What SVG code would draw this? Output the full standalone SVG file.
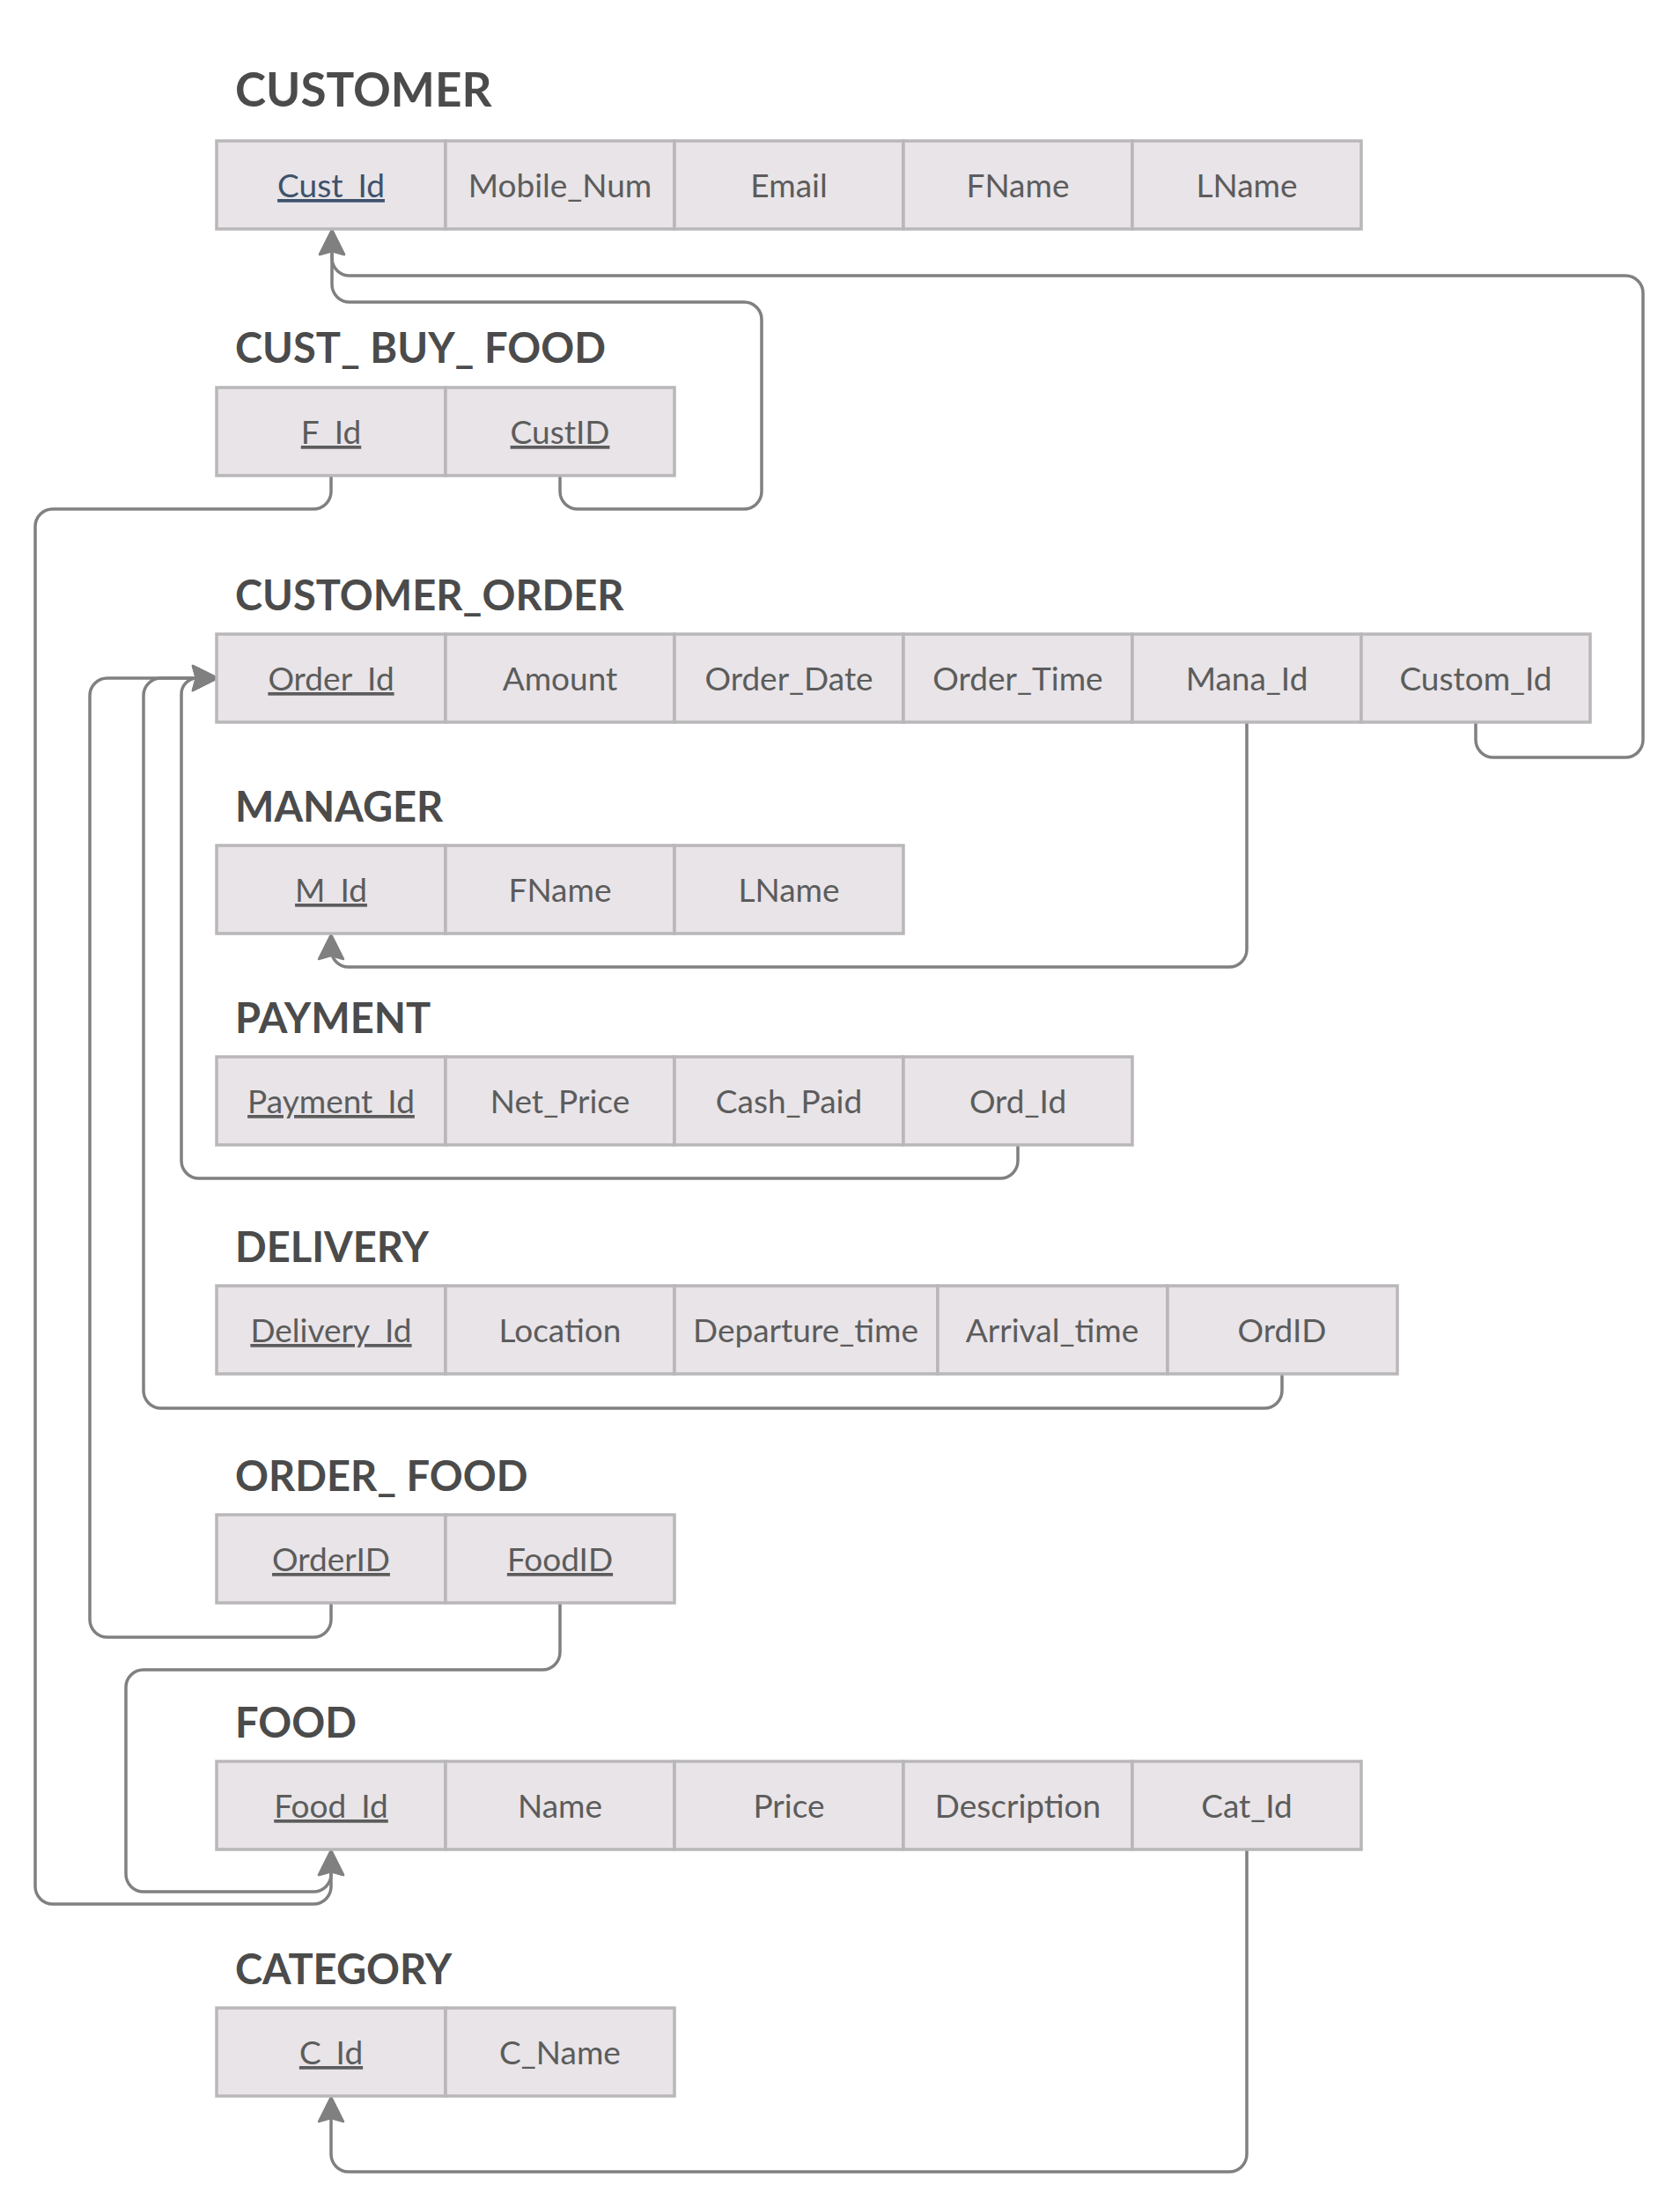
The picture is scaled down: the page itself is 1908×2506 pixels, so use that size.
<svg xmlns="http://www.w3.org/2000/svg" width="1908" height="2506" viewBox="0 0 1908 2506">
<defs>
<style>
.bg{fill:#ffffff}
.cell{fill:#e8e4e8;stroke:#b9b7b9;stroke-width:3.5}
.t{font-family:Lato,"Liberation Sans",sans-serif;font-size:37px;fill:#5c5c5c;text-anchor:middle}
.u{text-decoration:underline}
.k{fill:#3e526c}
.h{font-family:Lato,"Liberation Sans",sans-serif;font-weight:bold;font-size:47px;fill:#4b4b4b}
.h1{font-size:53px}
.c{fill:none;stroke:#808080;stroke-width:3.5;marker-end:url(#arr)}
</style>
<marker id="arr" markerUnits="userSpaceOnUse" markerWidth="44" markerHeight="44" viewBox="-22 -22 44 44" refX="0" refY="0" orient="auto">
<path d="M16,0 L-12,-14 L-8,0 L-12,14 Z" fill="#808080" stroke="#808080" stroke-width="2.5" stroke-linejoin="round"/>
</marker>
</defs>
<rect class="bg" x="0" y="0" width="1908" height="2506"/>

<g id="connectors">
<path class="c" d="M636,541 V558 A20,20 0 0 0 656,578 H845 A20,20 0 0 0 865,558 V363 A20,20 0 0 0 845,343 H397 A20,20 0 0 1 377,323 V277"/>
<path class="c" d="M1676,821 V840 A20,20 0 0 0 1696,860 H1846 A20,20 0 0 0 1866,840 V333 A20,20 0 0 0 1846,313 H397 A20,20 0 0 1 377,293 V277"/>
<path class="c" d="M376,541 V558 A20,20 0 0 1 356,578 H60 A20,20 0 0 0 40,598 V2142 A20,20 0 0 0 60,2162 H356 A20,20 0 0 0 376,2142 V2117"/>
<path class="c" d="M636,1821 V1876 A20,20 0 0 1 616,1896 H163 A20,20 0 0 0 143,1916 V2128 A20,20 0 0 0 163,2148 H356 A20,20 0 0 0 376,2128 V2117"/>
<path class="c" d="M376,1821 V1839 A20,20 0 0 1 356,1859 H122 A20,20 0 0 1 102,1839 V790 A20,20 0 0 1 122,770 H231"/>
<path class="c" d="M1456,1561 V1579 A20,20 0 0 1 1436,1599 H183 A20,20 0 0 1 163,1579 V790 A20,20 0 0 1 183,770 H231"/>
<path class="c" d="M1156,1301 V1318 A20,20 0 0 1 1136,1338 H226 A20,20 0 0 1 206,1318 V788 A18,18 0 0 1 224,770 H231"/>
<path class="c" d="M1416,821 V1078 A20,20 0 0 1 1396,1098 H396 A20,20 0 0 1 376,1078 V1077"/>
<path class="c" d="M1416,2101 V2446 A20,20 0 0 1 1396,2466 H396 A20,20 0 0 1 376,2446 V2397"/>
</g>

<g id="customer">
<text class="h h1" x="267" y="121">CUSTOMER</text>
<rect class="cell" x="246" y="160" width="260" height="100"/>
<rect class="cell" x="506" y="160" width="260" height="100"/>
<rect class="cell" x="766" y="160" width="260" height="100"/>
<rect class="cell" x="1026" y="160" width="260" height="100"/>
<rect class="cell" x="1286" y="160" width="260" height="100"/>
<text class="t u k" x="376" y="224">Cust_Id</text>
<text class="t" x="636" y="224">Mobile_Num</text>
<text class="t" x="896" y="224">Email</text>
<text class="t" x="1156" y="224">FName</text>
<text class="t" x="1416" y="224">LName</text>
</g>

<g id="cust_buy_food">
<text class="h" x="267" y="412">CUST_ BUY_ FOOD</text>
<rect class="cell" x="246" y="440" width="260" height="100"/>
<rect class="cell" x="506" y="440" width="260" height="100"/>
<text class="t u" x="376" y="504">F_Id</text>
<text class="t u" x="636" y="504">CustID</text>
</g>

<g id="customer_order">
<text class="h" x="267" y="693">CUSTOMER_ORDER</text>
<rect class="cell" x="246" y="720" width="260" height="100"/>
<rect class="cell" x="506" y="720" width="260" height="100"/>
<rect class="cell" x="766" y="720" width="260" height="100"/>
<rect class="cell" x="1026" y="720" width="260" height="100"/>
<rect class="cell" x="1286" y="720" width="260" height="100"/>
<rect class="cell" x="1546" y="720" width="260" height="100"/>
<text class="t u" x="376" y="784">Order_Id</text>
<text class="t" x="636" y="784">Amount</text>
<text class="t" x="896" y="784">Order_Date</text>
<text class="t" x="1156" y="784">Order_Time</text>
<text class="t" x="1416" y="784">Mana_Id</text>
<text class="t" x="1676" y="784">Custom_Id</text>
</g>

<g id="manager">
<text class="h" x="267" y="933">MANAGER</text>
<rect class="cell" x="246" y="960" width="260" height="100"/>
<rect class="cell" x="506" y="960" width="260" height="100"/>
<rect class="cell" x="766" y="960" width="260" height="100"/>
<text class="t u" x="376" y="1024">M_Id</text>
<text class="t" x="636" y="1024">FName</text>
<text class="t" x="896" y="1024">LName</text>
</g>

<g id="payment">
<text class="h" x="267" y="1173">PAYMENT</text>
<rect class="cell" x="246" y="1200" width="260" height="100"/>
<rect class="cell" x="506" y="1200" width="260" height="100"/>
<rect class="cell" x="766" y="1200" width="260" height="100"/>
<rect class="cell" x="1026" y="1200" width="260" height="100"/>
<text class="t u" x="376" y="1264">Payment_Id</text>
<text class="t" x="636" y="1264">Net_Price</text>
<text class="t" x="896" y="1264">Cash_Paid</text>
<text class="t" x="1156" y="1264">Ord_Id</text>
</g>

<g id="delivery">
<text class="h" x="267" y="1433">DELIVERY</text>
<rect class="cell" x="246" y="1460" width="260" height="100"/>
<rect class="cell" x="506" y="1460" width="260" height="100"/>
<rect class="cell" x="766" y="1460" width="299" height="100"/>
<rect class="cell" x="1065" y="1460" width="261" height="100"/>
<rect class="cell" x="1326" y="1460" width="261" height="100"/>
<text class="t u" x="376" y="1524">Delivery_Id</text>
<text class="t" x="636" y="1524">Location</text>
<text class="t" x="915" y="1524">Departure_time</text>
<text class="t" x="1195" y="1524">Arrival_time</text>
<text class="t" x="1456" y="1524">OrdID</text>
</g>

<g id="order_food">
<text class="h" x="267" y="1693">ORDER_ FOOD</text>
<rect class="cell" x="246" y="1720" width="260" height="100"/>
<rect class="cell" x="506" y="1720" width="260" height="100"/>
<text class="t u" x="376" y="1784">OrderID</text>
<text class="t u" x="636" y="1784">FoodID</text>
</g>

<g id="food">
<text class="h" x="267" y="1973">FOOD</text>
<rect class="cell" x="246" y="2000" width="260" height="100"/>
<rect class="cell" x="506" y="2000" width="260" height="100"/>
<rect class="cell" x="766" y="2000" width="260" height="100"/>
<rect class="cell" x="1026" y="2000" width="260" height="100"/>
<rect class="cell" x="1286" y="2000" width="260" height="100"/>
<text class="t u" x="376" y="2064">Food_Id</text>
<text class="t" x="636" y="2064">Name</text>
<text class="t" x="896" y="2064">Price</text>
<text class="t" x="1156" y="2064">Description</text>
<text class="t" x="1416" y="2064">Cat_Id</text>
</g>

<g id="category">
<text class="h" x="267" y="2253">CATEGORY</text>
<rect class="cell" x="246" y="2280" width="260" height="100"/>
<rect class="cell" x="506" y="2280" width="260" height="100"/>
<text class="t u" x="376" y="2344">C_Id</text>
<text class="t" x="636" y="2344">C_Name</text>
</g>
</svg>
